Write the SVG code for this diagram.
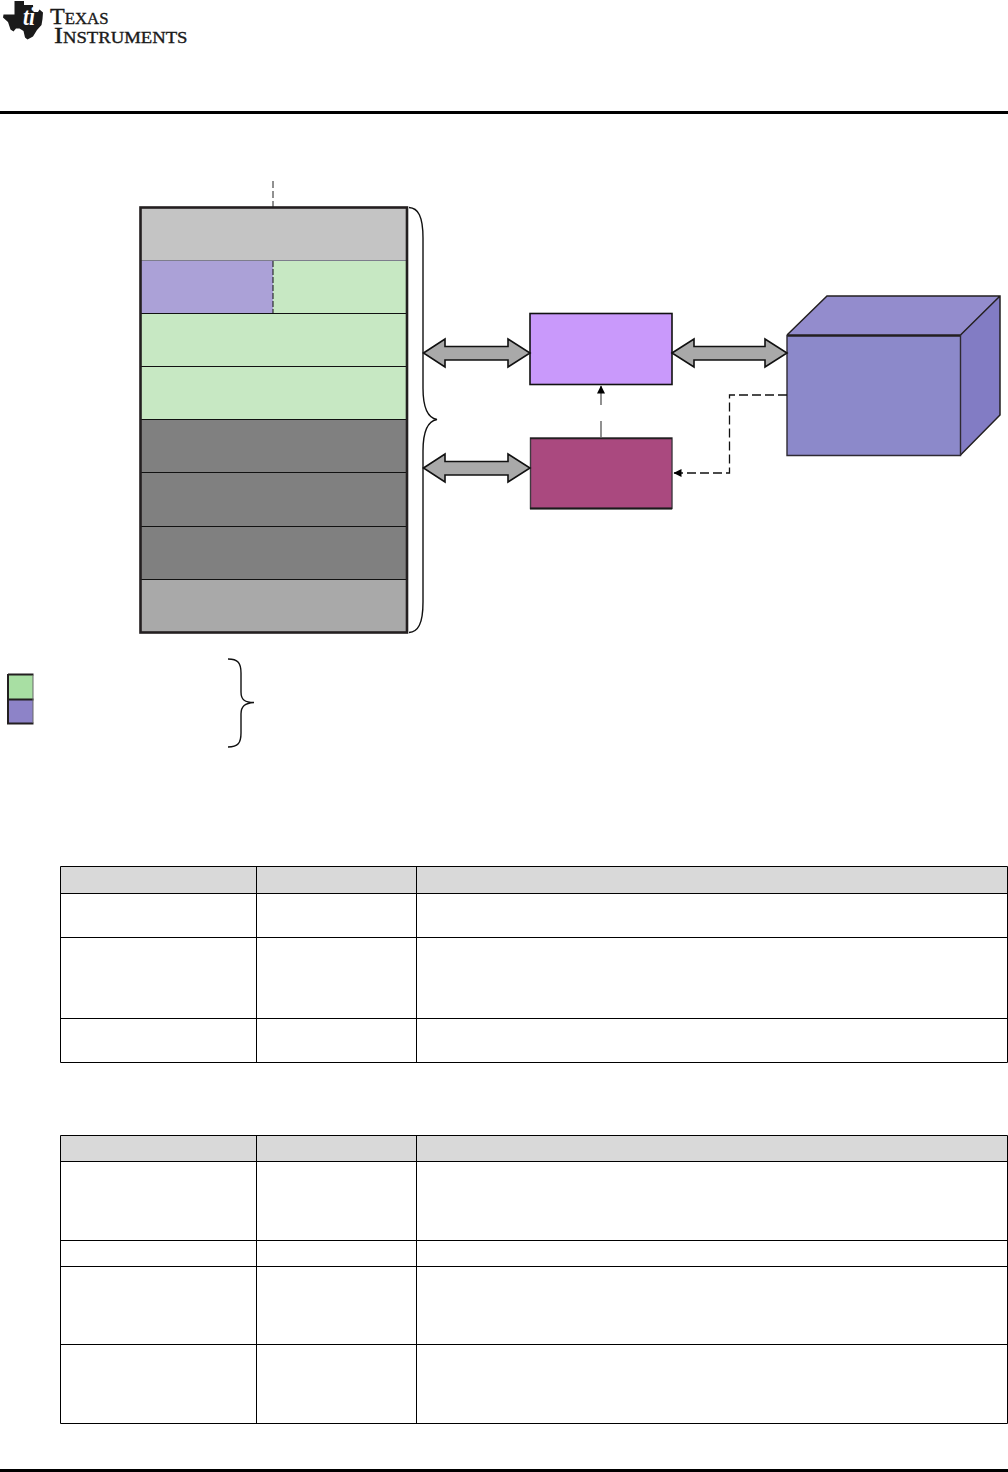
<svg xmlns="http://www.w3.org/2000/svg" width="1008" height="1472" viewBox="0 0 1008 1472">
<style>
.rule{fill:#000}
.hd{fill:#d9d9d9}
.t{fill:none;stroke:#000;stroke-width:1}
.sep{stroke:#111;stroke-width:1.2;fill:none}
.dbl{fill:#a9a9a9;stroke:#111;stroke-width:1.6;stroke-linejoin:miter}
.brace{fill:none;stroke:#111;stroke-width:1.4}
.logo{font-family:"Liberation Serif",serif;fill:#1a1a1a;stroke:#1a1a1a;stroke-width:.35}
.big{font-size:23px}
.sm{font-size:16px}
</style>
<defs>
<marker id="tip" markerWidth="9" markerHeight="9" refX="7.500" refY="4" orient="auto" markerUnits="userSpaceOnUse"><path d="M0 0L8 4L0 8Z" fill="#000"/></marker>
</defs>
<rect width="1008" height="1472" fill="#fff"/>
<g id="logo">
<path d="M14.500 1H24V5L33 5L33.500 12H38L39.500 9.500L43 12.500L42.500 19L41.500 25L37 30L33 36.500L27.500 39.500L25 37.500L23.500 31L19.500 28.500L16 28.500L13.500 31.500L10.500 29.500L8 22L3 17.500L3.500 14.500H14.500Z" fill="#1a1a1a"/>
<text x="23" y="25" font-family="Liberation Serif,serif" font-style="italic" font-weight="bold" font-size="25" fill="#fff" textLength="12" lengthAdjust="spacingAndGlyphs">ti</text>
<text class="logo" x="50" y="23.500" textLength="58.500" lengthAdjust="spacingAndGlyphs"><tspan class="big">T</tspan><tspan class="sm">EXAS</tspan></text>
<text class="logo" x="54" y="42.500" textLength="133.500" lengthAdjust="spacingAndGlyphs"><tspan class="big">I</tspan><tspan class="sm">NSTRUMENTS</tspan></text>
</g>
<rect class="rule" x="0" y="111" width="1008" height="3"/>
<rect class="rule" x="0" y="1469" width="1008" height="3"/>
<g id="memory-map">
<rect x="141" y="208" width="266" height="53" fill="#c4c4c4"/>
<rect x="141" y="261" width="132" height="53" fill="#aba1d7"/>
<rect x="273" y="261" width="134" height="53" fill="#c7e8c3"/>
<rect x="141" y="314" width="266" height="106" fill="#c7e8c3"/>
<rect x="141" y="420" width="266" height="160" fill="#808080"/>
<rect x="141" y="580" width="266" height="53" fill="#a9a9a9"/>
<path d="M141 260.500H407" stroke="#7d7d8c" stroke-width="1" fill="none"/>
<path class="sep" d="M141 313.500H407M141 366.500H407M141 419.500H407M141 472.500H407M141 526.500H407M141 579.500H407"/>
<rect x="140.500" y="207.500" width="266.500" height="425" fill="none" stroke="#231f20" stroke-width="2.600"/>
</g>
<g id="legend">
<rect x="8" y="675" width="25" height="24.500" fill="#a8dfa3"/>
<rect x="8" y="699.500" width="25" height="24" fill="#8d83c8"/>
<path d="M8 674.500H33.500M8 699.500H33.500M7 723.500H33.500M8 674V724.500" stroke="#231f20" stroke-width="2" fill="none"/>
<path d="M33 675V723" stroke="#666" stroke-width="1" fill="none"/>
</g>
<g id="braces">
<path class="brace" d="M409 207.500C418 208 423 216 423 238V388C423 408 428 418 437 419.500C428 421 423 431 423 451V602C423 624 418 632 409 632.500"/>
<path class="brace" d="M228 659C238 659 241 663 241 673V692C241 700 245 702.500 254 702.500C245 703 241 706 241 714V733C241 743 238 747 228 747"/>
</g>
<g id="node-dma">
<rect x="530" y="313.500" width="142" height="71" fill="#c999fb" stroke="#111" stroke-width="1.600"/>
</g>
<g id="node-ctrl">
<rect x="530.500" y="438" width="141.500" height="70.500" fill="#aa497f" stroke="#403a40" stroke-width="1.400"/>
<path d="M530 438.500H672" stroke="#231f20" stroke-width="1.600"/>
<path d="M530 508.500H672" stroke="#1a1a1a" stroke-width="2"/>
</g>
<g id="node-cube">
<path d="M787 335L827 296H1000L960.500 335Z" fill="#938ccd"/>
<path d="M960.500 335L1000 296V415L960.500 455Z" fill="#827cc4"/>
<rect x="787" y="335" width="173.500" height="120" fill="#8c89ca"/>
<path d="M787 335L827 296H1000V415L960.500 455M1000 296L960.500 335" fill="none" stroke="#231f20" stroke-width="1.500"/>
<path d="M787 335.500H960.500" stroke="#231f20" stroke-width="2.400"/>
<path d="M787 335V455.500H960.500V335" fill="none" stroke="#2e2a33" stroke-width="1.400"/>
</g>
<g id="connectors">
<path class="dbl" d="M423.500 353L445 339V346.500H508V339L530 353L508 367V360H445V367Z"/>
<path class="dbl" d="M672 353L694 339V346.500H765V339L787 353L765 367V360H694V367Z"/>
<path class="dbl" d="M423.500 468L445 454V461.500H508V454L530 468L508 482V475H445V482Z"/>
<path d="M273 181V207" fill="none" stroke="#222" stroke-width="1" stroke-dasharray="7 3"/>
<path d="M273 261V313" fill="none" stroke="#111" stroke-width="1" stroke-dasharray="6 2"/>
<path d="M601 437V421" fill="none" stroke="#555" stroke-width="1.300"/>
<path d="M601 405V386" fill="none" stroke="#555" stroke-width="1.300" marker-end="url(#tip)"/>
<path d="M787 395H729.500V473H674" fill="none" stroke="#111" stroke-width="1.300" stroke-dasharray="9 4" marker-end="url(#tip)"/>
</g>
<g id="table-1">
<rect class="hd" x="61" y="866.500" width="946" height="27"/>
<path class="t" d="M60.500 866.500H1007.500V1062.500H60.500ZM61 893.500H1007M61 937.500H1007M61 1018.500H1007M256.500 866.500V1062.500M416.500 866.500V1062.500"/>
</g>
<g id="table-2">
<rect class="hd" x="61" y="1135.500" width="946" height="26"/>
<path class="t" d="M60.500 1135.500H1007.500V1423.500H60.500ZM61 1161.500H1007M61 1240.500H1007M61 1266.500H1007M61 1344.500H1007M256.500 1135.500V1423.500M416.500 1135.500V1423.500"/>
</g>
</svg>
